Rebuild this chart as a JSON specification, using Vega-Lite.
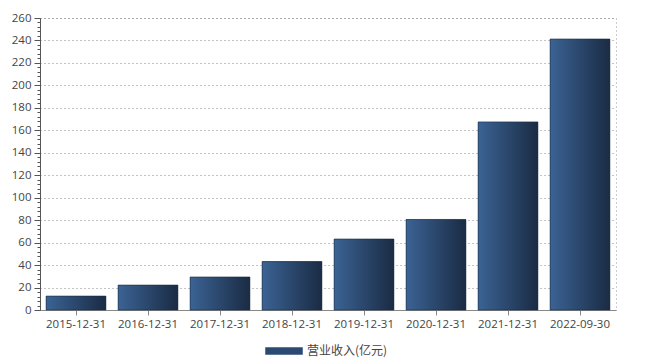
{
  "$schema": "https://vega.github.io/schema/vega-lite/v6.json",
  "width": 576,
  "height": 292,
  "autosize": "none",
  "padding": {"left": 40, "top": 18, "right": 31, "bottom": 51},
  "background": "white",
  "config": {
    "view": {"stroke": "#999", "strokeDash": [1, 3]},
    "font": "Open Sans"
  },
  "data": {
    "values": [
      {"date": "2015-12-31", "value": 12.4},
      {"date": "2016-12-31", "value": 22.2},
      {"date": "2017-12-31", "value": 29.4},
      {"date": "2018-12-31", "value": 43.1},
      {"date": "2019-12-31", "value": 63.2},
      {"date": "2020-12-31", "value": 80.6},
      {"date": "2021-12-31", "value": 167.5},
      {"date": "2022-09-30", "value": 241.3}
    ]
  },
  "encoding": {
    "x": {
      "field": "date",
      "type": "nominal",
      "sort": null,
      "scale": {"paddingInner": 0.17, "paddingOuter": 0.085},
      "axis": {
        "title": null,
        "labelAngle": 0,
        "labelFontSize": 11.5,
        "labelColor": "#444",
        "domainColor": "#888",
        "tickColor": "#888",
        "tickSize": 5,
        "labelPadding": 3
      }
    },
    "y": {
      "field": "value",
      "type": "quantitative",
      "scale": {"domain": [0, 260], "nice": false},
      "axis": {
        "title": null,
        "values": [0,4,8,12,16,20,24,28,32,36,40,44,48,52,56,60,64,68,72,76,80,84,88,92,96,100,104,108,112,116,120,124,128,132,136,140,144,148,152,156,160,164,168,172,176,180,184,188,192,196,200,204,208,212,216,220,224,228,232,236,240,244,248,252,256,260],
        "labelExpr": "datum.value % 20 == 0 ? datum.label : ''",
        "labelOverlap": false,
        "tickSize": {"condition": {"test": "datum.value % 20 == 0", "value": 6}, "value": 3},
        "gridOpacity": {"condition": {"test": "datum.value % 20 == 0", "value": 1}, "value": 0},
        "gridDash": [1, 3],
        "gridColor": "#888",
        "labelColor": "#444",
        "labelFontSize": 11.5,
        "labelPadding": 3,
        "domainColor": "#555",
        "tickColor": "#555"
      }
    }
  },
  "layer": [
    {
      "mark": {"type": "bar"},
      "encoding": {
        "color": {
          "datum": "营业收入(亿元)",
          "scale": {"range": ["#2b4a72"]},
          "legend": {
            "title": null,
            "orient": "none",
            "legendX": 229,
            "legendY": 318,
            "symbolType": "M-1.25,-0.25H1.25V0.25H-1.25Z",
            "symbolSize": 900,
            "symbolStrokeWidth": 0,
            "labelFont": "Noto Sans CJK SC",
            "labelFontSize": 12,
            "labelColor": "#444",
            "labelOffset": 8
          }
        }
      }
    },
    {
      "mark": {
        "type": "bar",
        "color": {
          "gradient": "linear",
          "x1": 0, "x2": 1, "y1": 0, "y2": 0,
          "stops": [
            {"offset": 0, "color": "#3b6394"},
            {"offset": 1, "color": "#1a2b44"}
          ]
        },
        "stroke": "#1b2a40",
        "strokeWidth": 0.6
      }
    }
  ]
}
